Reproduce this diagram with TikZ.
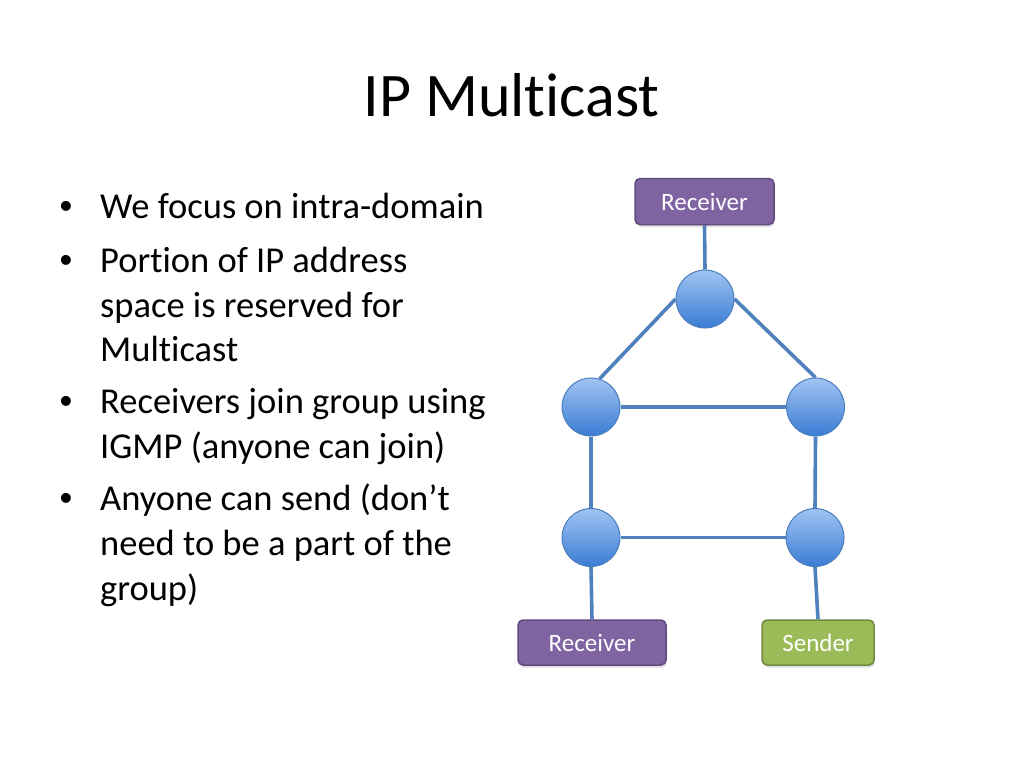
\documentclass[tikz,border=0pt]{standalone}
\usepackage{fontspec}
\setmainfont{Carlito}[Ligatures=NoCommon]
\newfontfamily\bulletfont{Liberation Sans}
\usetikzlibrary{backgrounds,shadows}
\definecolor{edgeblue}{RGB}{79,129,189}
\definecolor{nodeborder}{RGB}{74,126,187}
\definecolor{nodetop}{RGB}{160,196,242}
\definecolor{nodebot}{RGB}{58,124,212}
\definecolor{purplefill}{RGB}{128,100,162}
\definecolor{purpleline}{RGB}{96,74,128}
\definecolor{greenfill}{RGB}{155,187,89}
\definecolor{greenline}{RGB}{113,137,63}
\tikzset{
  router/.style={circle, minimum size=58pt, inner sep=0pt, draw=nodeborder, line width=1pt,
    top color=nodetop, bottom color=nodebot},
  hostbox/.style={rectangle, rounded corners=5pt, line width=1.5pt, text=white, inner sep=0pt,
    font=\fontsize{25}{30}\selectfont,
    drop shadow={opacity=0.25, shadow xshift=1pt, shadow yshift=-2.5pt}},
  recvbox/.style={hostbox, fill=purplefill, draw=purpleline},
  sendbox/.style={hostbox, fill=greenfill, draw=greenline},
  link/.style={draw=edgeblue, line width=3.6pt},
  bodytext/.style={anchor=base west, inner sep=0pt, font=\fontsize{36.5}{44}\selectfont},
  bulletmark/.style={anchor=base, inner sep=0pt, font=\bulletfont\fontsize{36.5}{44}\selectfont},
}
\begin{document}
\begin{tikzpicture}[x=1pt,y=-1pt]
\useasboundingbox (0,0) rectangle (1024,768);
% title
\node[anchor=base, inner sep=0pt, font=\fontsize{62}{74}\selectfont] (title) at (511.5,116) {IP Multicast};
% bullets
\node[bulletmark] (b1) at (66,218) {•};
\node[bodytext] (l1) at (100,218) {We focus on intra-domain};
\node[bulletmark] (b2) at (66,272) {•};
\node[bodytext] (l2) at (100,272) {Portion of IP address};
\node[bodytext] (l3) at (100,317) {space is reserved for};
\node[bodytext] (l4) at (100,361) {Multicast};
\node[bulletmark] (b3) at (66,413) {•};
\node[bodytext] (l5) at (100,413) {Receivers join group using};
\node[bodytext] (l6) at (100,458) {IGMP (anyone can join)};
\node[bulletmark] (b4) at (66,510) {•};
\node[bodytext] (l7) at (100,510) {Anyone can send (don’t};
\node[bodytext] (l8) at (100,555) {need to be a part of the};
\node[bodytext] (l9) at (100,600) {group)};
% hosts
\node[recvbox, minimum width=139pt, minimum height=46pt] (rtop) at (704.5,201.5) {Receiver};
\node[recvbox, minimum width=148pt, minimum height=45pt] (rbot) at (592,642.5) {Receiver};
\node[sendbox, minimum width=112pt, minimum height=45pt] (snd) at (818,642.5) {Sender};
% routers
\node[router] (t) at (705,299) {};
\node[router] (ml) at (591,407) {};
\node[router] (mr) at (815.5,407) {};
\node[router] (ll) at (591,537.5) {};
\node[router] (lr) at (815,537.5) {};
% links
\begin{pgfonlayer}{background}
\fill[white] (0,0) rectangle (1024,768);
\draw[link] (rtop.south) -- (t.north);
\draw[link] (t.west) -- (ml.73);
\draw[link] (t.east) -- (mr.north);
\draw[link] (ml.east) -- (mr.west);
\draw[link] (ml.south) -- (ll.north);
\draw[link] (mr.south) -- (lr.north);
\draw[link] (ll.east) -- (lr.west);
\draw[link] (ll.south) -- (rbot.north);
\draw[link] (lr.south) -- (snd.north);
\end{pgfonlayer}
\end{tikzpicture}
\end{document}
